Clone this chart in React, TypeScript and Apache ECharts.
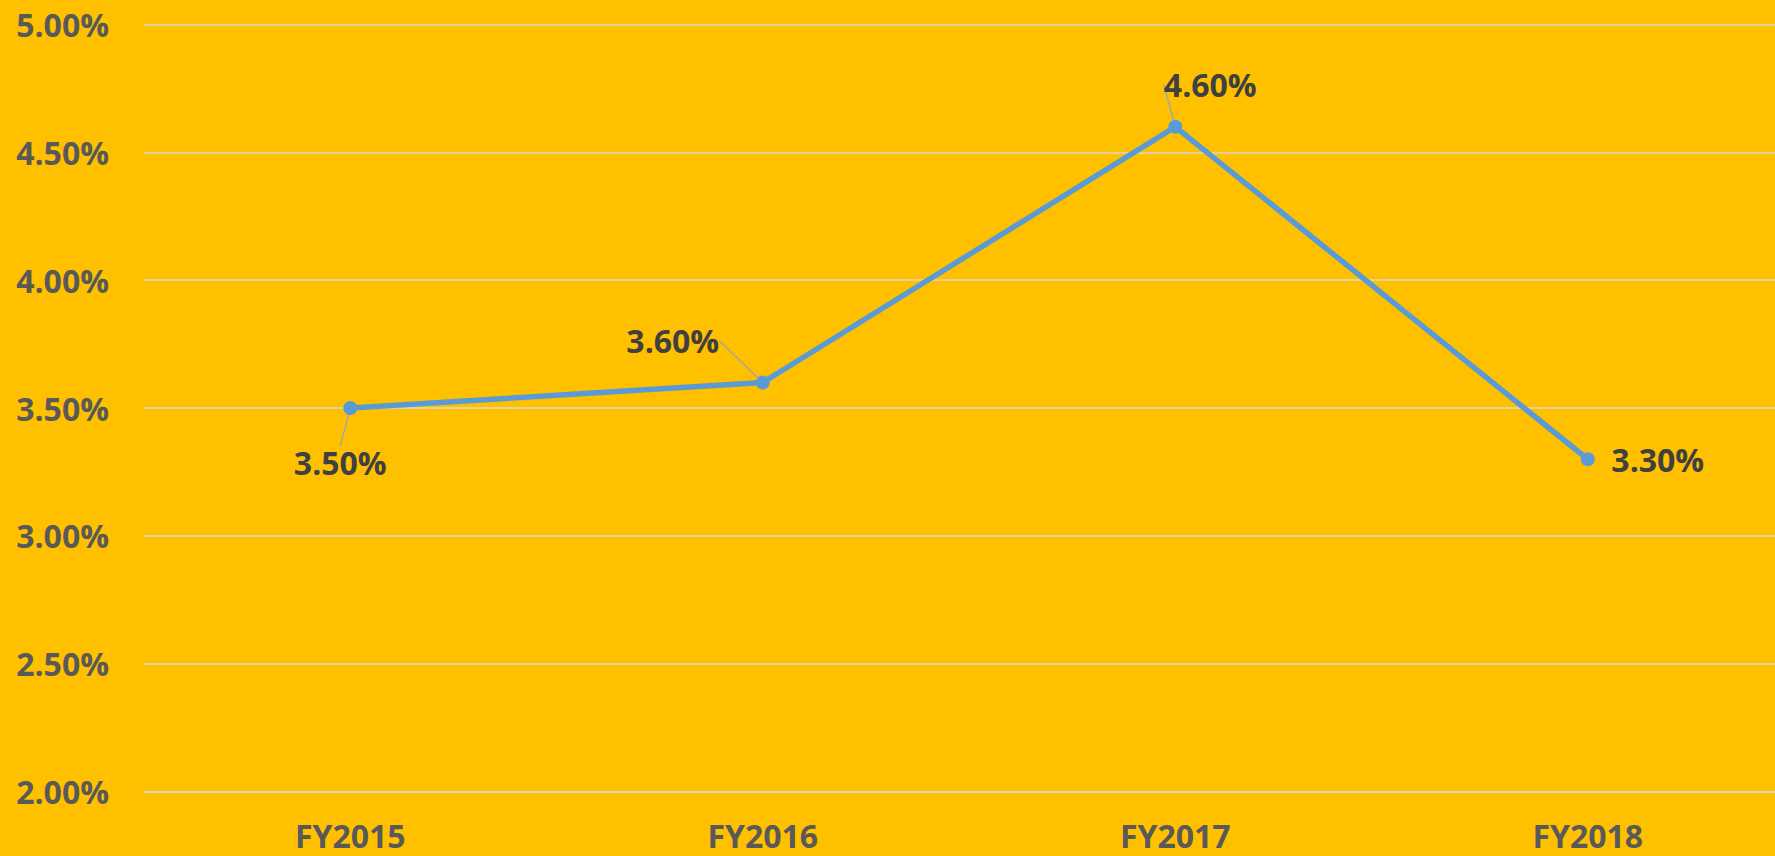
import React, { useEffect, useRef } from "react";
import * as echarts from "echarts";

const categories = ["FY2015", "FY2016", "FY2017", "FY2018"];
const values = [3.5, 3.6, 4.6, 3.3];
const yMin = 2;
const yMax = 5;
const yStep = 0.5;

// label offsets (px) relative to each point, and whether a leader line is drawn
const labelOffsets: [number, number][] = [
  [-10, 54],
  [-90, -42],
  [35, -42],
  [70, 0],
];
const leaderShown = [true, true, true, false];

export default function App() {
  const ref = useRef<HTMLDivElement>(null);
  useEffect(() => {
    document.body.style.margin = "0";
    const chart = echarts.init(ref.current!, undefined, { renderer: "svg" });
    chart.setOption({
      animation: false,
      backgroundColor: "#FFC000",
      grid: { left: 144, right: 0, top: 24.5, bottom: 64.3 },
      xAxis: {
        type: "category",
        data: categories,
        axisLine: { show: true, lineStyle: { color: "#D9D9D9", width: 1.5 } },
        axisTick: { show: false },
        axisLabel: {
          margin: 28,
          color: "#595959",
          fontFamily: "Open Sans",
          fontWeight: "bold",
          fontSize: 32,
          lineHeight: 32,
        },
      },
      yAxis: {
        type: "value",
        min: yMin,
        max: yMax,
        interval: yStep,
        axisLine: { show: false },
        axisTick: { show: false },
        splitLine: { lineStyle: { color: "#D9D9D9", width: 1.5 } },
        axisLabel: {
          margin: 35,
          color: "#595959",
          fontFamily: "Open Sans",
          fontWeight: "bold",
          fontSize: 32,
          formatter: (v: number) => v.toFixed(2) + "%",
        },
      },
      series: [
        {
          type: "line",
          data: values.map((v, i) => ({
            value: v,
            labelLine: { show: leaderShown[i] },
          })),
          symbol: "circle",
          symbolSize: 14,
          itemStyle: { color: "#5B9BD5" },
          lineStyle: { color: "#5B9BD5", width: 5.5 },
          label: {
            show: true,
            position: "inside",
            color: "#404040",
            fontFamily: "Open Sans",
            fontWeight: "bold",
            fontSize: 32,
            formatter: (p: any) => Number(p.value).toFixed(2) + "%",
          },
          labelLine: {
            show: true,
            lineStyle: { color: "#A6A6A6", width: 1.5 },
          },
          labelLayout: (p: any) => ({
            dx: labelOffsets[p.dataIndex][0],
            dy: labelOffsets[p.dataIndex][1],
          }),
        },
      ],
    });
    return () => chart.dispose();
  }, []);
  return (
    <div style={{ width: 1775, height: 856, overflow: "hidden", position: "relative" }}>
      <div ref={ref} style={{ width: 1794, height: 856 }} />
    </div>
  );
}
